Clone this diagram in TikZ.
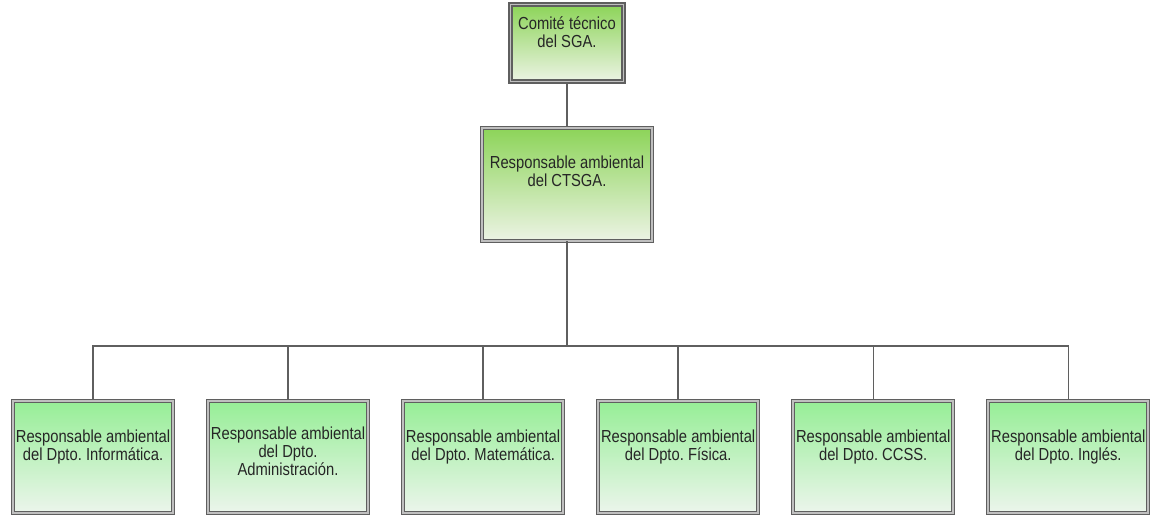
\documentclass[tikz,border=0pt]{standalone}
\usepackage{fontspec}
\setmainfont{Liberation Sans}
\usetikzlibrary{positioning, calc}
\definecolor{headgreen}{RGB}{140, 212, 88}
\definecolor{headpale}{RGB}{236, 243, 228}
\definecolor{deptgreen}{RGB}{150, 238, 150}
\definecolor{deptpale}{RGB}{236, 245, 236}
\definecolor{edgegray}{RGB}{95, 95, 95}
\tikzset{
  unitbox/.style={draw=edgegray, double=black!25, double distance=1.1pt, line width=0.6pt,
    inner sep=0pt},
  headbox/.style={unitbox, top color=headgreen, bottom color=headpale},
  deptbox/.style={unitbox, top color=deptgreen, bottom color=deptpale,
    minimum width=3.2cm, minimum height=2.24cm},
  boxtext/.style={align=center, font=\fontsize{8.4}{8.7}\selectfont, text=black!85,
    yscale=1.18, transform shape},
  orgline/.style={draw=edgegray, line width=0.8pt}
}
\frenchspacing
\begin{document}
\begin{tikzpicture}
    \useasboundingbox (0,0) rectangle (23.02,-10.32);

    \node (comite) [headbox, minimum width=2.26cm, minimum height=1.54cm,
      label={[boxtext, yshift=0.19cm]center:Comité técnico\\del SGA.}] at (11.34,-0.86) {};
    \node (ctsga) [headbox, minimum width=3.4cm, minimum height=2.26cm, below=0.9cm of comite,
      label={[boxtext, yshift=0.22cm]center:Responsable ambiental\\del CTSGA.}] {};

    \node (inf) [deptbox, label={[boxtext, yshift=0.17cm]center:Responsable ambiental\\del Dpto. Informática.}] at (1.86,-9.14) {};
    \node (adm) [deptbox, right=0.68cm of inf, label={[boxtext, yshift=0.1cm]center:Responsable ambiental\\del Dpto.\\Administración.}] {};
    \node (mat) [deptbox, right=0.68cm of adm, label={[boxtext, yshift=0.17cm]center:Responsable ambiental\\del Dpto. Matemática.}] {};
    \node (fis) [deptbox, right=0.68cm of mat, label={[boxtext, yshift=0.17cm]center:Responsable ambiental\\del Dpto. Física.}] {};
    \node (ccss) [deptbox, right=0.68cm of fis, label={[boxtext, yshift=0.17cm]center:Responsable ambiental\\del Dpto. CCSS.}] {};
    \node (ing) [deptbox, right=0.68cm of ccss, label={[boxtext, yshift=0.17cm]center:Responsable ambiental\\del Dpto. Inglés.}] {};

    \coordinate (bar) at ($(ctsga.south)+(0,-2.1)$);

    \draw[orgline] (comite) -- (ctsga);
    \foreach \d in {inf, adm, mat, fis, ccss, ing}
        \draw[orgline] (ctsga.south) -- (bar) -| (\d.north);
\end{tikzpicture}
\end{document}
